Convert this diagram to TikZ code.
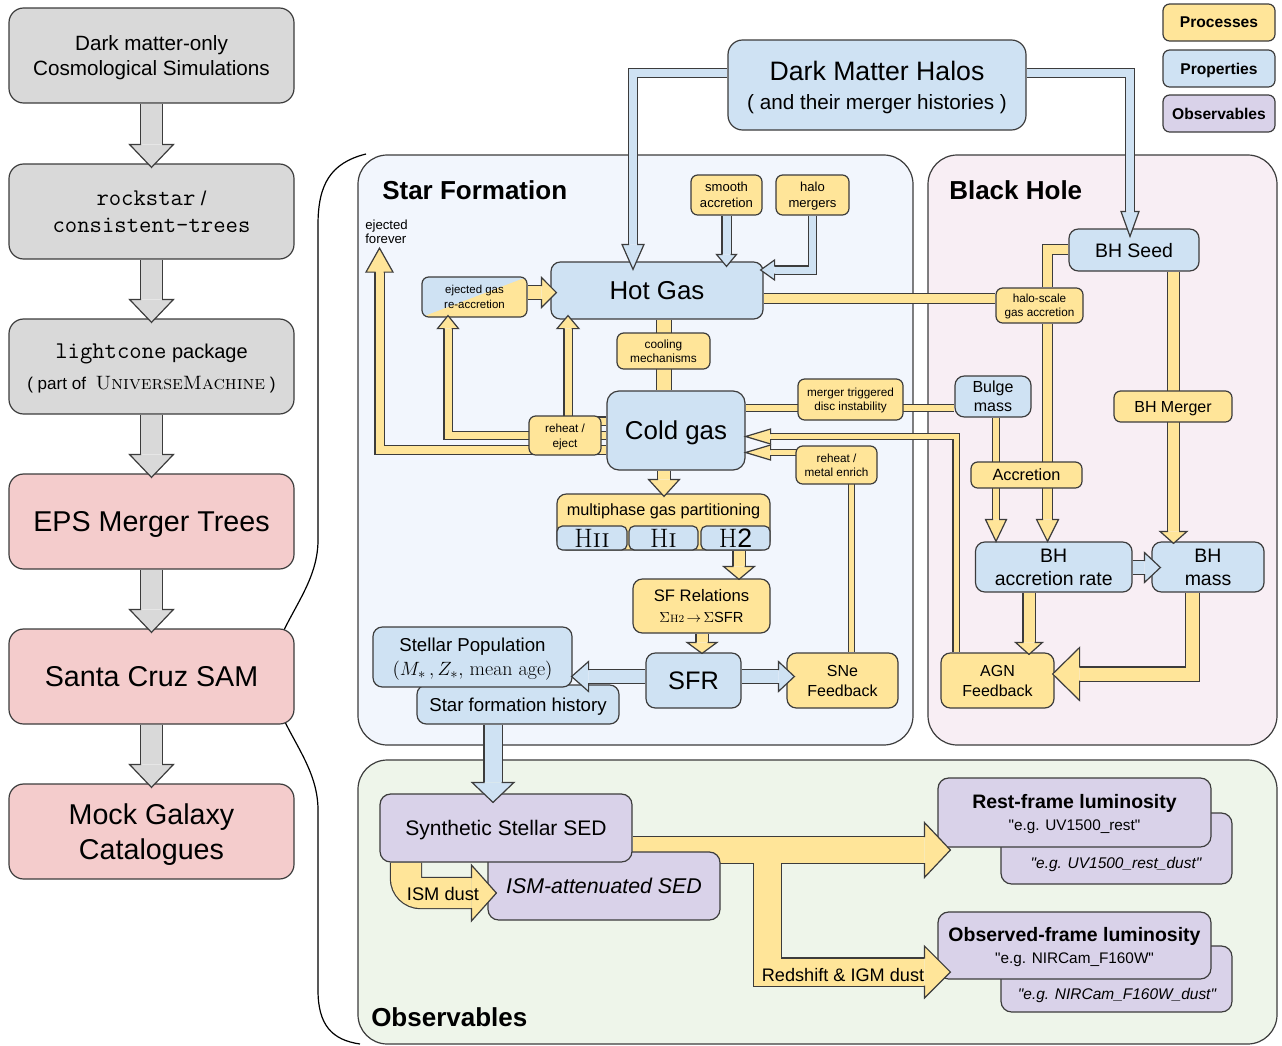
\documentclass[tikz,border=0pt]{standalone}
\usepackage{fontspec}
\setsansfont{Liberation Sans}
\newfontfamily\quotefont{Liberation Sans}
\renewcommand{\familydefault}{\sfdefault}
\usetikzlibrary{calc}

\definecolor{edgecol}{HTML}{3C3C3C}
\definecolor{simfill}{HTML}{D9D9D9}
\definecolor{samfill}{HTML}{F4CCCC}
\definecolor{procfill}{HTML}{FFE599}
\definecolor{propfill}{HTML}{CFE2F3}
\definecolor{obsfill}{HTML}{D9D2E9}
\definecolor{sfback}{HTML}{F2F6FD}
\definecolor{bhback}{HTML}{F8EEF4}
\definecolor{obsback}{HTML}{EEF5EA}

\newcommand{\fsz}[2]{\fontsize{#1}{#2}\selectfont}
\newcommand{\dq}{{\quotefont\symbol{34}}}

\pgfdeclarelayer{back}
\pgfdeclarelayer{edges}
\pgfdeclarelayer{fills}
\pgfsetlayers{back,edges,fills,main}

\tikzset{
    nodebox/.style={draw=edgecol, line width=0.9pt, rounded corners=7pt, inner sep=0pt, align=center, text depth=0pt},
    boxsize/.style 2 args={minimum width=#1*0.75pt, minimum height=#2*0.75pt},
    simbox/.style={nodebox, fill=simfill, rounded corners=11pt},
    sambox/.style={nodebox, fill=samfill, rounded corners=11pt},
    procbox/.style={nodebox, fill=procfill},
    propbox/.style={nodebox, fill=propfill},
    obsbox/.style={nodebox, fill=obsfill},
    smallcorner/.style={rounded corners=5pt},
    panel/.style={draw=edgecol, line width=0.9pt, rounded corners=22pt},
    paneltitle/.style={anchor=west, inner sep=0pt, font=\bfseries\fsz{19.5}{23}},
    plain/.style={inner sep=0pt, align=center},
}

% block arrow shaft: outline stroke below, fill stroke above
\newcommand{\fatshaft}[4][]{%
    \pgfmathsetlengthmacro\shaftw{0.75*#3}%
    \pgfmathsetlengthmacro\shafto{0.75*#3+1.8}%
    \begin{pgfonlayer}{edges}\draw[edgecol, line width=\shafto, #1] #4;\end{pgfonlayer}%
    \begin{pgfonlayer}{fills}\draw[#2, line width=\shaftw, #1] #4;\end{pgfonlayer}}

% block arrow head, apex at #2, pointing along angle #3
\newcommand{\fathead}[6]{%
    \begin{scope}[shift={#2}, rotate=#3]
        \fill[#1] (0,0) -- (-#6,#5) -- (-#6,-#5) -- cycle;
        \draw[edgecol, line width=0.9pt] (-#6,#4/2) -- (-#6,#5) -- (0,0) -- (-#6,-#5) -- (-#6,-#4/2);
    \end{scope}}

% colour, shaft width, head half width, head length, angle, path, apex
\newcommand{\fatarrow}[8][]{%
    \pgfmathsetlengthmacro\headlen{0.75*#5}%
    \fatshaft[#1, shorten >=\headlen]{#2}{#3}{#7 -- #8}%
    \fathead{#2}{#8}{#6}{#3}{#4}{#5}}

\begin{document}
\begin{tikzpicture}[x=0.75pt, y=-0.75pt]
    \useasboundingbox (0,0) rectangle (1282,1046);

    \begin{pgfonlayer}{back}
        \fill[white] (0,0) rectangle (1282,1046);
        \draw[panel, fill=sfback] (358,155) rectangle (913,745);
        \draw[panel, fill=bhback] (928,155) rectangle (1277,745);
        \draw[panel, fill=obsback] (358,760) rectangle (1277,1044);
    \end{pgfonlayer}

    % brace from the SAM box to the model panels
    \draw[line width=0.9pt] (366,154) .. controls (330,163) and (318,185) .. (318,225) -- (318,540)
        .. controls (318,585) and (285,615) .. (272,660) -- (272,690)
        .. controls (285,735) and (318,765) .. (318,810) -- (318,990)
        .. controls (318,1025) and (332,1040) .. (360,1044);

    % pipeline column
    \node[simbox, boxsize={285}{95}, font=\fsz{15.5}{18.75}] (dmsim) at (151.5,55.5) {Dark matter-only\\Cosmological Simulations};
    \node[simbox, boxsize={285}{95}, font=\fsz{15}{20.25}] (rockstar) at (151.5,211.5) {{\ttfamily\fsz{18}{20.25}rockstar} /\\{\ttfamily\fsz{18}{20.25}consistent-trees}};
    \node[simbox, boxsize={285}{95}, font=\fsz{15}{23}] (lightcone) at (151.5,366.5) {{\ttfamily\fsz{18}{23}lightcone} package\\{\fsz{12.8}{23}( part of\ \ {\rmfamily\fsz{14.5}{23}\textsc{UniverseMachine}} )}};
    \node[sambox, boxsize={285}{95}, font=\fsz{21.5}{26}] (eps) at (151.5,521.5) {EPS Merger Trees};
    \node[sambox, boxsize={285}{95}, font=\fsz{21.5}{26}] (sam) at (151.5,676.5) {Santa Cruz SAM};
    \node[sambox, boxsize={285}{95}, font=\fsz{21.5}{26.25}] (mock) at (151.5,831.5) {Mock Galaxy\\Catalogues};

    % legend
    \node[procbox, boxsize={112}{37}, smallcorner, font=\bfseries\fsz{11.7}{14}] (legproc) at (1219,22.5) {Processes};
    \node[propbox, boxsize={112}{37}, smallcorner, font=\bfseries\fsz{11.7}{14}] (legprop) at (1219,68.5) {Properties};
    \node[obsbox, boxsize={112}{37}, smallcorner, font=\bfseries\fsz{11.7}{14}] (legobs) at (1219,113.5) {Observables};

    \node[propbox, boxsize={298}{90}, rounded corners=11pt, font=\fsz{20}{21.75}] (halos) at (877,85) {Dark Matter Halos\\\fsz{15.5}{21.75}( and their merger histories )};

    \node[paneltitle] (sftitle) at (382,190) {Star Formation};
    \node[paneltitle] (bhtitle) at (949,190) {Black Hole};
    \node[paneltitle] (obstitle) at (371,1017) {Observables};

    % star formation
    \node[propbox, boxsize={212}{57}, font=\fsz{19.4}{22}] (hotgas) at (657,290.5) {Hot Gas};
    \node[procbox, boxsize={71}{40}, smallcorner, font=\fsz{9.8}{12}] (smooth) at (726.5,195) {smooth\\accretion};
    \node[procbox, boxsize={73}{40}, smallcorner, font=\fsz{9.8}{12}] (halomerg) at (812.5,195) {halo\\mergers};
    \node[plain, anchor=west, align=left, font=\fsz{9.9}{10.5}] (ejforever) at (365,232) {ejected\\forever};
    \node[propbox, boxsize={105}{40}, smallcorner, font=\fsz{8.6}{11},
        path picture={\fill[procfill] (path picture bounding box.south west) -- (path picture bounding box.north east) -- (path picture bounding box.south east) -- cycle;}]
        (ejgas) at (474.5,297) {ejected gas\\re-accretion};
    \node[procbox, boxsize={93}{36}, smallcorner, font=\fsz{8.9}{10.5}] (cooling) at (663.5,351) {cooling\\mechanisms};
    \node[propbox, boxsize={138}{79}, rounded corners=9pt, font=\fsz{19.4}{22}] (coldgas) at (676,430.5) {Cold gas};
    \node[procbox, boxsize={72}{39}, smallcorner, font=\fsz{8.8}{11}] (reheat) at (565,435.5) {reheat /\\eject};
    \node[procbox, boxsize={105}{41}, smallcorner, font=\fsz{8.8}{10.5}] (merger) at (850.5,399.5) {merger triggered\\disc instability};
    \node[procbox, boxsize={81}{38}, smallcorner, font=\fsz{8.8}{10.5}] (reheatmetal) at (836.5,465) {reheat /\\metal enrich};
    \node[procbox, boxsize={213}{56}] (multiphase) at (663.5,522) {};
    \node[plain, font=\fsz{12.2}{14}] (multitext) at (663.5,511) {multiphase gas partitioning};
    \node[propbox, boxsize={70}{24}, rounded corners=4pt, font=\rmfamily\fsz{20}{20}] (hii) at (592,538) {H\textsc{ii}};
    \node[propbox, boxsize={69}{24}, rounded corners=4pt, font=\rmfamily\fsz{20}{20}] (hi) at (663.5,538) {H\textsc{i}};
    \node[propbox, boxsize={69}{24}, rounded corners=4pt, font=\fsz{20}{20}] (htwo) at (735.5,538) {{\rmfamily H}2};
    \node[procbox, boxsize={137}{54}, font=\fsz{12.5}{15.75}] (sfrel) at (701.5,606) {SF Relations\\{\fsz{11}{15.75}{\rmfamily$\Sigma${\fsz{8}{10}H2}}\,$\rightarrow$\,{\rmfamily$\Sigma$}SFR}};
    \node[propbox, boxsize={95}{55}, font=\fsz{19}{22}] (sfr) at (693.5,680.5) {SFR};
    \node[propbox, boxsize={202}{39}, font=\fsz{14}{17}] (sfhist) at (518,704.5) {Star formation history};
    \node[propbox, boxsize={199}{60}, font=\fsz{14}{18}] (stellar) at (472.5,657) {Stellar Population\\{\rmfamily\fsz{15}{18}$(M_*\,, Z_*,$ mean age$)$}};
    \node[procbox, boxsize={111}{55}, font=\fsz{12}{15}] (sne) at (842.5,680.5) {SNe\\Feedback};

    % black hole
    \node[propbox, boxsize={130}{42}, font=\fsz{14.6}{17}] (bhseed) at (1134,250) {BH Seed};
    \node[procbox, boxsize={87}{35}, smallcorner, font=\fsz{8.8}{10.5}] (hscale) at (1039.5,305.5) {halo-scale\\gas accretion};
    \node[propbox, boxsize={76}{41}, font=\fsz{12}{14.25}] (bulge) at (993,396.5) {Bulge\\mass};
    \node[procbox, boxsize={118}{31}, smallcorner, font=\fsz{12}{14}] (bhmerger) at (1173,406.5) {BH Merger};
    \node[procbox, boxsize={111}{26}, smallcorner, font=\fsz{12.2}{14}] (accretion) at (1026.5,475) {Accretion};
    \node[propbox, boxsize={156.5}{50}, font=\fsz{14.6}{17.25}] (bhacc) at (1053.75,567) {BH\\accretion rate};
    \node[propbox, boxsize={112}{50}, font=\fsz{14.6}{17.25}] (bhmass) at (1208,567) {BH\\mass};
    \node[procbox, boxsize={113}{55}, font=\fsz{12}{15}] (agn) at (997.5,680.5) {AGN\\Feedback};

    % observables
    \node[obsbox, boxsize={232}{68}, rounded corners=8pt, font=\itshape\fsz{16}{18}] (ismsed) at (604,886) {ISM-attenuated SED};
    \node[obsbox, boxsize={252}{68}, rounded corners=8pt, font=\fsz{15.8}{18}] (synsed) at (506,828) {Synthetic Stellar SED};
    \node[obsbox, boxsize={231}{71}, rounded corners=8pt] (restdustbox) at (1116.5,848.5) {};
    \node[plain, font=\itshape\fsz{11.6}{14}] (restdust) at (1116,864) {\dq e.g. UV1500\_rest\_dust\dq};
    \node[obsbox, boxsize={273}{69}, rounded corners=8pt, font=\fsz{11.5}{16.5}] (restlum) at (1074.5,812.5) {{\bfseries\fsz{14.6}{16.5}Rest-frame luminosity}\\\dq e.g. UV1500\_rest\dq};
    \node[obsbox, boxsize={231}{66}, rounded corners=8pt] (obsdustbox) at (1116.5,979) {};
    \node[plain, font=\itshape\fsz{11.6}{14}] (obsdust) at (1117,995) {\dq e.g. NIRCam\_F160W\_dust\dq};
    \node[obsbox, boxsize={273}{67}, rounded corners=8pt, font=\fsz{11.5}{16.5}] (obslum) at (1074.5,945.5) {{\bfseries\fsz{14.6}{16.5}Observed-frame luminosity}\\\dq e.g. NIRCam\_F160W\dq};

    % pipeline arrows
    \fatarrow{simfill}{21}{22}{23}{-90}{(dmsim.south)}{($(rockstar.north)+(0,4)$)}
    \fatarrow{simfill}{21}{22}{23}{-90}{(rockstar.south)}{($(lightcone.north)+(0,4)$)}
    \fatarrow{simfill}{21}{22}{23}{-90}{(lightcone.south)}{($(eps.north)+(0,4)$)}
    \fatarrow{simfill}{21}{22}{23}{-90}{(eps.south)}{($(sam.north)+(0,4)$)}
    \fatarrow{simfill}{21}{22}{23}{-90}{(sam.south)}{($(mock.north)+(0,4)$)}

    % halo inputs
    \fatarrow{propfill}{8}{11}{25}{-90}{(halos.west |- 0,73) -- (633,73)}{($(633,0 |- hotgas.north)+(0,8)$)}
    \fatarrow{propfill}{8}{9}{25}{-90}{(halos.east |- 0,73) -- (1130,73)}{($(1130,0 |- bhseed.north)+(0,8)$)}
    \fatarrow{propfill}{8}{10}{12}{-90}{(smooth.south)}{($(smooth.south |- hotgas.north)+(0,5)$)}
    \fatarrow{propfill}{7}{10}{14}{180}{(halomerg.south) -- (halomerg.south |- 0,270)}{($(hotgas.east |- 0,270)+(-3,0)$)}

    % gas cycle
    \fatarrow{procfill}{13}{15}{15}{0}{(ejgas.east |- 0,292.5)}{($(hotgas.west |- 0,292.5)+(6,0)$)}
    \fatshaft{procfill}{14}{(664,0 |- hotgas.south) -- (664,0 |- coldgas.north)}
    \fatarrow{procfill}{7}{11}{13}{90}{(coldgas.west |- 0,421) -- (568,421)}{($(568,0 |- hotgas.south)+(0,-4)$)}
    \fatarrow{procfill}{7}{10.5}{13}{90}{(coldgas.west |- 0,435.5) -- (448,435.5)}{($(448,0 |- ejgas.south)+(0,-2)$)}
    \fatarrow{procfill}{8}{13.5}{24}{90}{(coldgas.west |- 0,450) -- (379.5,450)}{($(379.5,0 |- ejforever.south)+(0,4)$)}
    \fatarrow{procfill}{12}{15.5}{17}{-90}{(664,0 |- coldgas.south)}{($(664,0 |- multiphase.north)+(0,3)$)}
    \fatarrow{procfill}{11}{15.5}{13}{-90}{(739,0 |- htwo.south)}{($(739,0 |- sfrel.north)+(0,1)$)}
    \fatarrow{procfill}{11}{15}{11}{-90}{(702,0 |- sfrel.south)}{($(702,0 |- sfr.north)+(0,1)$)}
    \fatarrow{propfill}{13}{15}{17}{180}{(sfr.west |- 0,676.5)}{($(stellar.east |- 0,676.5)+(-1,0)$)}
    \fatarrow{propfill}{13}{15}{16}{0}{(sfr.east |- 0,676.5)}{($(sne.west |- 0,676.5)+(8,0)$)}
    \fatarrow{procfill}{5}{7.5}{25}{180}{(851.5,0 |- sne.north) -- (851.5,452.5)}{(coldgas.east |- 0,452.5)}
    \fatarrow{procfill}{5}{7.5}{25}{180}{(956,0 |- agn.north) -- (956,436.5)}{(coldgas.east |- 0,436.5)}
    \fatshaft{procfill}{6}{(coldgas.east |- 0,408) -- (bulge.west |- 0,408)}

    % black hole growth
    \fatshaft{procfill}{9}{(hotgas.east |- 0,298.5) -- (hscale.west |- 0,298.5)}
    \fatshaft{procfill}{9}{(1047.5,0 |- hscale.north) -- (1047.5,249.5) -- (bhseed.west |- 0,249.5)}
    \fatarrow{procfill}{9}{11}{22}{-90}{(1047.5,0 |- hscale.south)}{(1047.5,0 |- bhacc.north)}
    \fatarrow{procfill}{6}{10.5}{22}{-90}{(996,0 |- bulge.south)}{(996,0 |- bhacc.north)}
    \fatarrow{procfill}{11}{13.5}{12}{-90}{(1173.5,0 |- bhseed.south)}{($(1173.5,0 |- bhmass.north)+(0,2)$)}
    \fatarrow{procfill}{11}{13.5}{12}{-90}{(1029,0 |- bhacc.south)}{($(1029,0 |- agn.north)+(0,2)$)}
    \fatarrow{propfill}{13}{15}{16}{0}{(bhacc.east |- 0,567.5)}{($(bhmass.west |- 0,567.5)+(9,0)$)}
    \fatarrow{procfill}{13}{26.5}{27}{180}{(1192.5,0 |- bhmass.south) -- (1192.5,674)}{($(agn.east |- 0,674)+(-2,0)$)}

    % observables
    \fatarrow{propfill}{17}{21}{20}{-90}{(493,0 |- sfhist.south)}{($(493,0 |- synsed.north)+(0,9)$)}
    \fatarrow[rounded corners=11pt]{procfill}{30}{28}{25}{0}{(406,0 |- synsed.south) -- (406,893)}{($(ismsed.west |- 0,893)+(9,0)$)}
    \fatarrow{procfill}{26}{27.5}{26}{0}{(synsed.east |- 0,850)}{($(restlum.west |- 0,850)+(13,0)$)}
    \fatarrow{procfill}{27}{26}{26}{0}{(767.5,850) -- (767.5,972)}{($(obslum.west |- 0,972)+(13,0)$)}

    \node[plain, font=\fsz{13.7}{16}] (ismdust) at (443,894) {ISM dust};
    \node[plain, font=\fsz{13.6}{16}] (redshift) at (843,975) {Redshift \& IGM dust};
\end{tikzpicture}
\end{document}
